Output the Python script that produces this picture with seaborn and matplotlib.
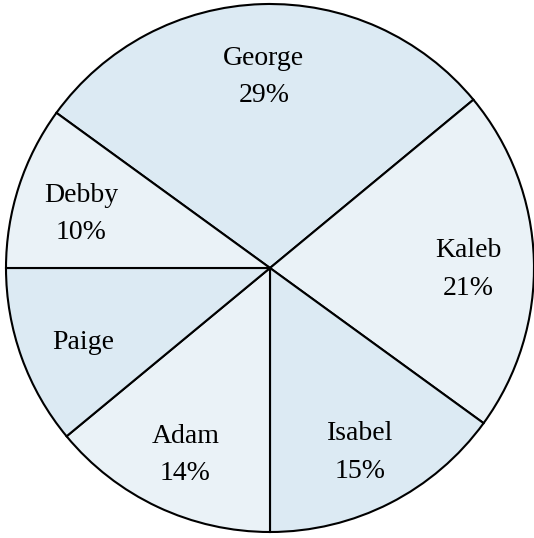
import matplotlib
matplotlib.use("Agg")
import matplotlib.pyplot as plt
import matplotlib.transforms as mtransforms
import seaborn as sns

# slice data, listed clockwise starting with George
names = ["George", "Kaleb", "Isabel", "Adam", "Paige", "Debby"]
shares = [29, 21, 15, 14, 11, 10]
show_pct = [True, True, True, True, False, True]

DARK = "#dceaf3"
LIGHT = "#eaf2f7"
colors = [DARK, LIGHT, DARK, LIGHT, DARK, LIGHT]

sns.set_theme(style="white")
plt.rcParams["font.family"] = ["Liberation Serif", "DejaVu Serif"]

fig = plt.figure(figsize=(5.34, 5.38), dpi=100)
ax = fig.add_axes([6 / 534, 6 / 538, 528 / 534, 528 / 538])

labels = [f"{n}\n{s}%" if p else n for n, s, p in zip(names, shares, show_pct)]

wedges, texts = ax.pie(
    shares,
    labels=labels,
    colors=colors,
    startangle=144,
    counterclock=False,
    labeldistance=0.752,
    wedgeprops={"edgecolor": "black", "linewidth": 1.5},
    textprops={"fontsize": 20, "color": "black", "linespacing": 1.65},
)
# labels sit centred in each slice, nudged a little downwards
shift = mtransforms.offset_copy(ax.transData, fig=fig, x=0, y=-5.5, units="points")
for t in texts:
    t.set_horizontalalignment("center")
    t.set_verticalalignment("center")
    t.set_transform(shift)

ax.set_xlim(-1, 1)
ax.set_ylim(-1, 1)
ax.set_aspect("equal")
ax.axis("off")

fig.savefig("out.png", dpi=100)
